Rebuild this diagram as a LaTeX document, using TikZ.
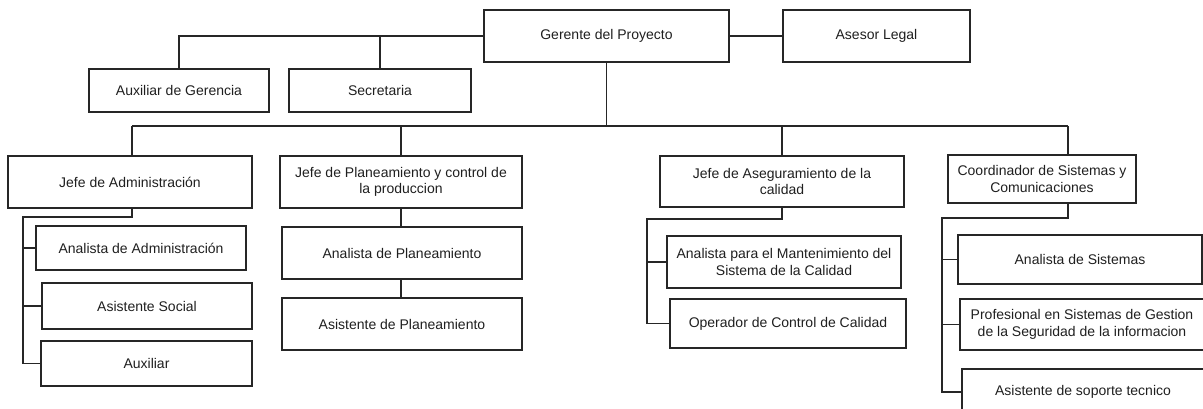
\documentclass[tikz,border=0pt]{standalone}
\usepackage{fontspec}
\setmainfont{Liberation Sans}
\begin{document}
\begin{tikzpicture}[x=1pt,y=-1pt,
  box/.style={draw=black!85, line width=1.3pt, inner sep=0pt, align=center,
    font=\fontsize{14}{16.5}\selectfont, text=black!88},
  link/.style={draw=black!85, line width=1.2pt}]
\clip (0,0) rectangle (1203,408);
\useasboundingbox (0,0) rectangle (1203,408);
% top level
\node[box, minimum width=245pt, minimum height=52pt] (ger) at (606.5,36) {Gerente del Proyecto};
\node[box, minimum width=187pt, minimum height=52pt] (ase) at (876.5,36) {Asesor Legal};
\node[box, minimum width=180pt, minimum height=43pt] (aux) at (179,90.5) {Auxiliar de Gerencia};
\node[box, minimum width=182pt, minimum height=43pt] (sec) at (380,90.5) {Secretaria};
% heads
\node[box, minimum width=244pt, minimum height=52pt] (ja) at (130,182) {Jefe de Administración};
\node[box, minimum width=242pt, minimum height=52pt] (jp) at (401,182) {Jefe de Planeamiento y control de\\la produccion};
\node[box, minimum width=244pt, minimum height=51pt] (jq) at (782,181.5) {Jefe de Aseguramiento de la\\calidad};
\node[box, minimum width=188pt, minimum height=48pt] (jc) at (1042,179) {Coordinador de Sistemas y\\Comunicaciones};
% administration
\node[box, minimum width=210pt, minimum height=44pt] (a1) at (141,248) {Analista de Administración};
\node[box, minimum width=210pt, minimum height=46pt] (a2) at (147,306) {Asistente Social};
\node[box, minimum width=211pt, minimum height=45pt] (a3) at (146.5,363.5) {Auxiliar};
% planning
\node[box, minimum width=240pt, minimum height=52pt] (p1) at (402,253) {Analista de Planeamiento};
\node[box, minimum width=240pt, minimum height=52pt] (p2) at (402,324) {Asistente de Planeamiento};
% quality
\node[box, minimum width=234pt, minimum height=52pt] (q1) at (784,262) {Analista para el Mantenimiento del\\Sistema de la Calidad};
\node[box, minimum width=236pt, minimum height=49pt] (q2) at (788,323.5) {Operador de Control de Calidad};
% systems
\node[box, minimum width=244pt, minimum height=49pt] (c1) at (1080,259.5) {Analista de Sistemas};
\node[box, minimum width=244pt, minimum height=51pt] (c2) at (1082,324.5) {Profesional en Sistemas de Gestion\\de la Seguridad de la informacion};
\node[box, minimum width=242pt, minimum height=46pt] (c3) at (1083,392) {Asistente de soporte tecnico};
% connectors top
\draw[link] (ger.west) -| (aux.north);
\draw[link] (ger.west -| sec.north) -- (sec.north);
\draw[link] (ger.east) -- (ase.west);
\coordinate (busL) at (132,126);
\coordinate (busR) at (1068,126);
\draw[link] (ger.south) -- (ger.south |- busL);
\draw[link] (busL) -- (busR);
\draw[link] (busL) -- (busL |- ja.north);
\draw[link] (jp.north |- busL) -- (jp.north);
\draw[link] (jq.north |- busL) -- (jq.north);
\draw[link] (busR) -- (busR |- jc.north);
% administration
\coordinate (ja1) at (23,217);
\draw[link] (busL |- ja.south) |- (ja1) -- (ja1 |- a3.west) -- (a3.west);
\draw[link] (ja1 |- a1.west) -- (a1.west);
\draw[link] (ja1 |- a2.west) -- (a2.west);
% planning
\draw[link] (jp.south) -- (jp.south |- p1.north);
\draw[link] (jp.south |- p1.south) -- (jp.south |- p2.north);
% quality
\coordinate (jq1) at (647,219);
\draw[link] (jq.south) |- (jq1) -- (jq1 |- q2.west) -- (q2.west);
\draw[link] (jq1 |- q1.west) -- (q1.west);
% systems
\coordinate (jc1) at (942,218);
\draw[link] (busR |- jc.south) |- (jc1) -- (jc1 |- c3.west) -- (c3.west);
\draw[link] (jc1 |- c1.west) -- (c1.west);
\draw[link] (jc1 |- c2.west) -- (c2.west);
\end{tikzpicture}
\end{document}
